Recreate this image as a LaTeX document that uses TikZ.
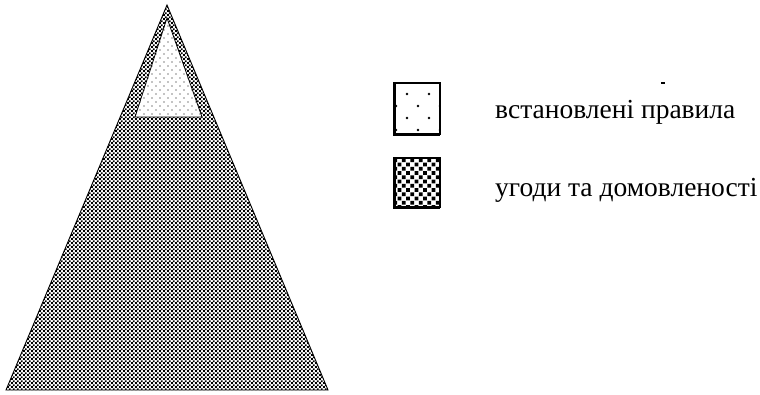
\documentclass[tikz,border=0pt]{standalone}
\usepackage{fontspec}
\setmainfont{Liberation Serif}
\usepackage{tikz}
\usetikzlibrary{patterns}

% fine texture of the big triangle
\pgfdeclarepatternformonly{densedots}{\pgfqpoint{-1.2pt}{-1.2pt}}{\pgfqpoint{3pt}{3pt}}{\pgfqpoint{4.2pt}{4.2pt}}{%
  \pgfpathrectangle{\pgfqpoint{-0.95pt}{-0.95pt}}{\pgfqpoint{1.9pt}{1.9pt}}%
  \pgfpathrectangle{\pgfqpoint{1.15pt}{1.15pt}}{\pgfqpoint{1.9pt}{1.9pt}}%
  \pgfusepath{fill}}
% sparse dots of the top triangle
\pgfdeclarepatternformonly{sparsedots}{\pgfqpoint{-1pt}{-1pt}}{\pgfqpoint{7pt}{7pt}}{\pgfqpoint{8pt}{8pt}}{%
  \pgfpathcircle{\pgfqpoint{0pt}{0pt}}{0.55pt}%
  \pgfpathcircle{\pgfqpoint{4pt}{4pt}}{0.55pt}%
  \pgfusepath{fill}}
% the same two textures, coarser, for the key
\pgfdeclarepatternformonly{keysparse}{\pgfqpoint{-2pt}{-2pt}}{\pgfqpoint{20pt}{22pt}}{\pgfqpoint{22pt}{24pt}}{%
  \pgfpathcircle{\pgfqpoint{0pt}{0pt}}{1.3pt}%
  \pgfpathcircle{\pgfqpoint{11pt}{12pt}}{1.3pt}%
  \pgfusepath{fill}}
\pgfdeclarepatternformonly{keydense}{\pgfqpoint{-2pt}{-2pt}}{\pgfqpoint{6.5pt}{6.5pt}}{\pgfqpoint{8.5pt}{8.5pt}}{%
  \pgfpathrectangle{\pgfqpoint{-1.8pt}{-1.8pt}}{\pgfqpoint{3.6pt}{3.6pt}}%
  \pgfpathrectangle{\pgfqpoint{2.45pt}{2.45pt}}{\pgfqpoint{3.6pt}{3.6pt}}%
  \pgfusepath{fill}}

\begin{document}
\begin{tikzpicture}[x=1pt,y=-1pt,every node/.style={font=\fontsize{27.5}{32}\selectfont},
  keytext/.style={anchor=base west,inner sep=0pt}]
\useasboundingbox (0,0) rectangle (760,394);
% pyramid
\fill[pattern=densedots] (6,390) -- (167,5) -- (328,390) -- cycle;
\draw[line width=0.9] (6,390) -- (167,5) -- (328,390) -- cycle;
\fill[white] (135,117) -- (167,18) -- (202,117) -- cycle;
\fill[pattern=sparsedots] (135,117) -- (167,18) -- (202,117) -- cycle;
\draw[line width=0.8] (135,117) -- (167,18) -- (202,117) -- cycle;
% key
\fill[pattern=keysparse] (394,83) rectangle (440,134);
\draw[line width=1.5] (394,83) rectangle (440,134);
\draw[line width=3] (394,83) -- (394,134) -- (440,134);
\fill[pattern=keydense] (394,158) rectangle (440,207);
\draw[line width=1.5] (394,158) rectangle (440,207);
\draw[line width=3] (394,158) -- (394,207) -- (440,207);
\draw[line width=1.5] (661,83) -- (665,83);
\node[keytext] (rules) at (495,118) {встановлені правила};
\node[keytext] (deals) at (495,196) {угоди та домовленості};
\end{tikzpicture}
\end{document}
